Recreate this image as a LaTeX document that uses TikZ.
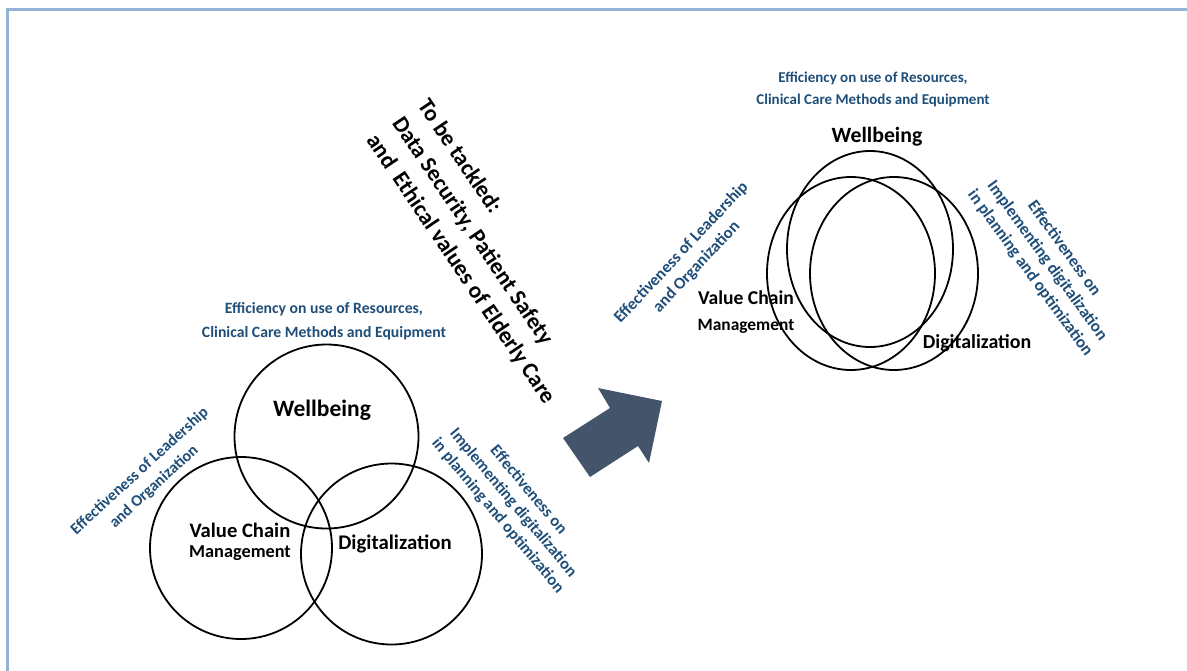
\documentclass[tikz,border=0pt]{standalone}
\usepackage{fontspec}
\setmainfont{Carlito}
\definecolor{lbl}{RGB}{31,78,121}
\definecolor{arrc}{RGB}{68,84,106}
\definecolor{framec}{RGB}{149,179,215}
\newcommand\fsz[2]{\fontsize{#1}{#2}\selectfont\bfseries}
\tikzset{
  bl/.style={text=lbl, align=center, inner sep=0pt},
  bk/.style={text=black, inner sep=0pt},
  ring/.style={draw=black, line width=1.8pt},
}
\begin{document}
\begin{tikzpicture}[x=1pt,y=-1pt]
\useasboundingbox (0,0) rectangle (1187,670);
\clip (0,0) rectangle (1187,670);
\draw[framec, line width=3pt] (7,9) rectangle (1200,690);

% left diagram
\draw[ring] (326.5,436.5) circle[radius=92];
\draw[ring] (241,548) circle[radius=91];
\draw[ring] (391.5,554) circle[radius=90.5];

\node[bl, font=\fsz{15.7}{24}] (effL) at (324,321) {Efficiency on use of Resources,\\Clinical Care Methods and Equipment};
\node[bk, font=\fsz{23.5}{28}] (wbL) at (322,410) {Wellbeing};
\node[bk, font=\fsz{20.6}{24}] (vcL) at (240,530) {Value Chain};
\node[bk, font=\fsz{18.3}{22}] (mgL) at (240,553) {Management};
\node[bk, font=\fsz{20.8}{24}] (dgL) at (395,544) {Digitalization};
\node[bl, font=\fsz{16.1}{21}, rotate=42.5] (leadL) at (147,479) {Effectiveness of Leadership\\and Organization};
\node[bl, font=\fsz{16.5}{20}, rotate=-50] (implL) at (513,503) {Effectiveness on\\Implementing digitalization\\in planning and optimization};

% tackled text
\node[bk, align=left, font=\fsz{23}{31}, rotate=-56] (tack) at (486,252) {To be tackled:\\Data Security, Patient Safety\\and\ \ Ethical values of Elderly Care};

% arrow
\fill[arrc] (563,438) -- (610,408) -- (598,388) -- (662,401) -- (649,463) -- (638,446) -- (590,477) -- cycle;

% right diagram
\draw[ring] (870,249) ellipse[x radius=83, y radius=98];
\draw[ring] (851,273.5) ellipse[x radius=84, y radius=96.5];
\draw[ring] (894,273.5) ellipse[x radius=84, y radius=96.5];

\node[bl, font=\fsz{15}{22}] (effR) at (873,89) {Efficiency on use of Resources,\\Clinical Care Methods and Equipment};
\node[bk, font=\fsz{21.8}{26}] (wbR) at (877,137) {Wellbeing};
\node[bk, font=\fsz{19.6}{24}] (vcR) at (746,298) {Value Chain};
\node[bk, font=\fsz{17.4}{21}] (mgR) at (746,326) {Management};
\node[bk, font=\fsz{19.9}{24}] (dgR) at (977,343) {Digitalization};
\node[bl, font=\fsz{16.7}{21}, rotate=46.7] (leadR) at (689,260) {Effectiveness of Leadership\\and Organization};
\node[bl, font=\fsz{16.9}{21}, rotate=-54] (implR) at (1047,261) {Effectiveness on\\Implementing digitalization\\in planning and optimization};
\end{tikzpicture}
\end{document}
